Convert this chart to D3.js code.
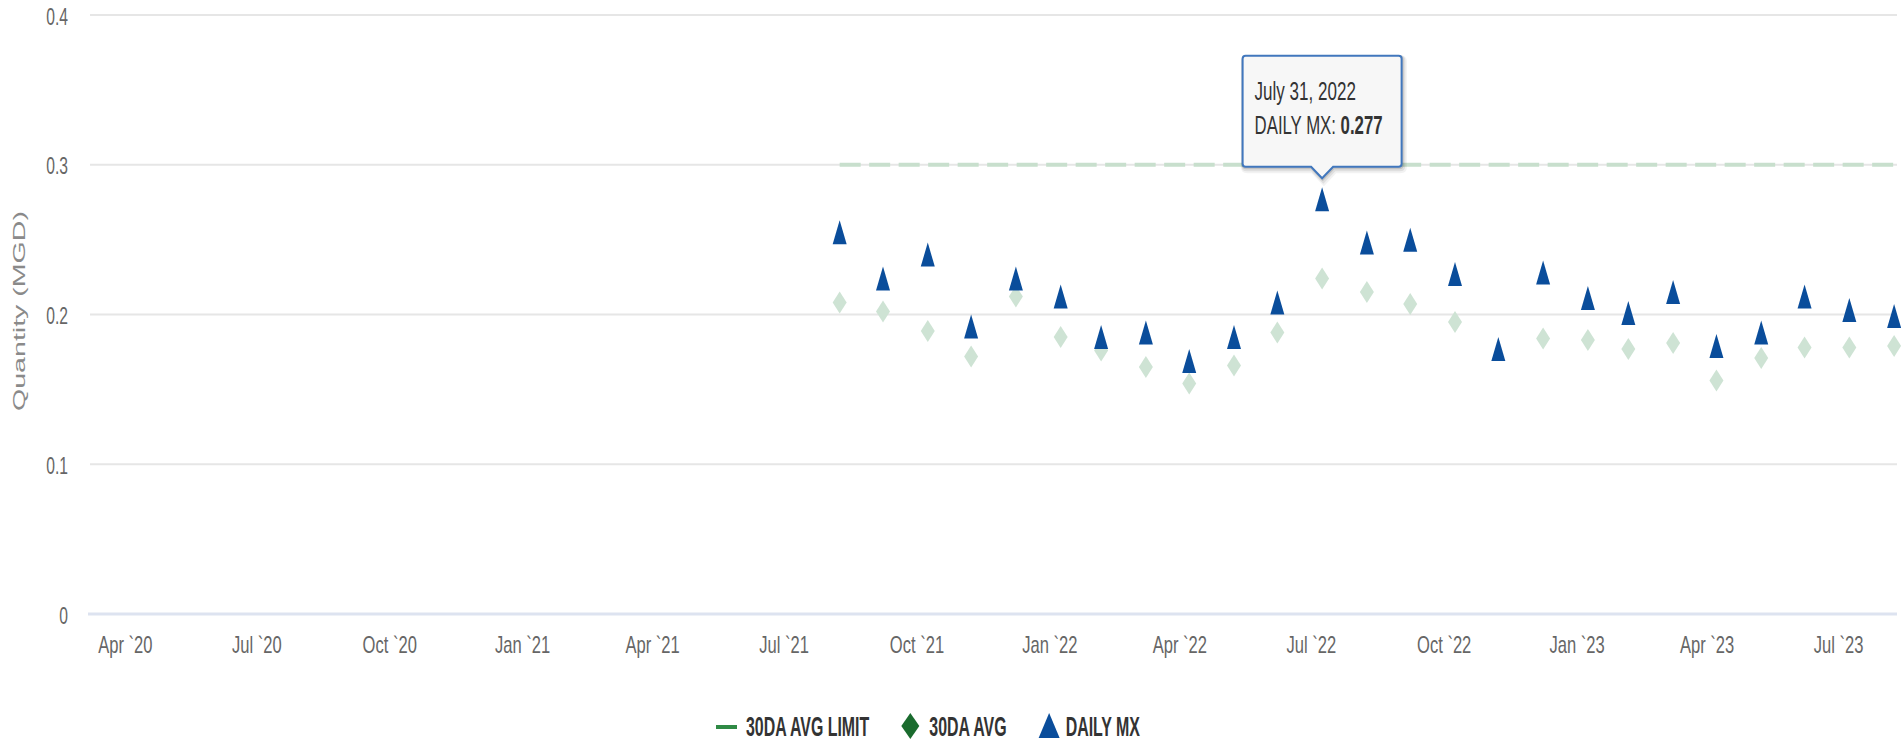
<!DOCTYPE html>
<html><head><meta charset="utf-8">
<script src="https://cdn.jsdelivr.net/npm/d3@7/dist/d3.min.js"></script>
<style>
html,body{margin:0;padding:0;background:#fff;overflow:hidden;}
svg{display:block;font-family:"Liberation Sans", Arial, sans-serif;}
</style></head><body>
<svg id="chart" width="1901" height="742"></svg>
<script>
// ---------- data ----------
const monthEnds = ["2021-08-31","2021-09-30","2021-10-31","2021-11-30","2021-12-31",
  "2022-01-31","2022-02-28","2022-03-31","2022-04-30","2022-05-31","2022-06-30","2022-07-31",
  "2022-08-31","2022-09-30","2022-10-31","2022-11-30","2022-12-31","2023-01-31","2023-02-28",
  "2023-03-31","2023-04-30","2023-05-31","2023-06-30","2023-07-31","2023-08-31"];
const dailyMx = [0.255,0.224,0.240,0.192,0.224,0.212,0.185,0.188,0.169,0.185,0.208,0.277,
  0.248,0.250,0.227,0.177,0.228,0.211,0.201,0.215,0.179,0.188,0.212,0.203,0.199];
const avg30 = [0.208,0.202,0.189,0.172,0.212,0.185,0.176,0.165,0.154,0.166,0.188,0.224,
  0.215,0.207,0.195,null,0.184,0.183,0.177,0.181,0.156,0.171,0.178,0.178,0.179];
const avgLimit = [0.3,0.3,0.3,0.3,0.3,0.3,0.3,0.3,0.3,0.3,0.3,0.3,
  0.3,0.3,0.3,0.3,0.3,0.3,0.3,0.3,0.3,0.3,0.3,0.3,0.3];
const yTicks = [0, 0.1, 0.2, 0.3, 0.4];
const yTickLabels = ["0","0.1","0.2","0.3","0.4"];
const xTickDates = ["2020-04-01","2020-07-01","2020-10-01","2021-01-01","2021-04-01","2021-07-01",
  "2021-10-01","2022-01-01","2022-04-01","2022-07-01","2022-10-01","2023-01-01","2023-04-01","2023-07-01"];
const xTickLabels = ["Apr `20","Jul `20","Oct `20","Jan `21","Apr `21","Jul `21",
  "Oct `21","Jan `22","Apr `22","Jul `22","Oct `22","Jan `23","Apr `23","Jul `23"];
const seriesNames = ["30DA AVG LIMIT","30DA AVG","DAILY MX"];
const yAxisTitle = "Quantity (MGD)";
const tooltipIndex = 11;
const tooltipDateLabel = "July 31, 2022";

// ---------- setup ----------
const parse = d3.utcParse("%Y-%m-%d");
const svg = d3.select("#chart");
const x = d3.scaleUtc().domain([Date.UTC(2020,2,30), Date.UTC(2023,8,2)]).range([90, 1897]);
const y = d3.scaleLinear().domain([0, 0.4]).range([614, 15]);

// horizontally condense a text element about its anchor x
function squeeze(sel, k){
  sel.each(function(){
    const ax = +(this.getAttribute("x") || 0);
    const prev = this.getAttribute("transform") || "";
    this.setAttribute("transform", `${prev} translate(${ax},0) scale(${k},1) translate(${-ax},0)`);
  });
}

// gridlines
svg.append("g").selectAll("line").data(yTicks.filter(d=>d>0)).join("line")
  .attr("x1", x.range()[0]).attr("x2", x.range()[1])
  .attr("y1", d=>y(d)).attr("y2", d=>y(d))
  .attr("stroke","#e6e6e6").attr("stroke-width",2);

// zero axis line
svg.append("line").attr("x1", x.range()[0]-2).attr("x2", x.range()[1])
  .attr("y1", y(0)).attr("y2", y(0)).attr("stroke","#dde3f0").attr("stroke-width",3);

// y axis labels
const yAxis = svg.append("g").attr("transform",`translate(${x.range()[0]},0)`)
  .call(d3.axisLeft(y).tickValues(yTicks).tickFormat((d,i)=>yTickLabels[i]).tickSize(0).tickPadding(22));
yAxis.select(".domain").remove();
yAxis.selectAll("text").attr("font-size",23).attr("fill","#666").attr("font-family","Liberation Sans, Arial, sans-serif")
  .attr("dy","0.40em");
squeeze(yAxis.selectAll("text"), 0.68);

// x axis labels
const xAxis = svg.append("g").attr("transform",`translate(0,${y(0)})`)
  .call(d3.axisBottom(x).tickValues(xTickDates.map(parse)).tickFormat((d,i)=>xTickLabels[i]).tickSize(0).tickPadding(23));
xAxis.select(".domain").remove();
xAxis.selectAll("text").attr("font-size",23).attr("fill","#666").attr("font-family","Liberation Sans, Arial, sans-serif")
  .attr("x",32);
squeeze(xAxis.selectAll("text"), 0.72);

// y axis title
svg.append("text").attr("transform",`translate(25,311) rotate(-90) scale(1.68,1)`)
  .attr("text-anchor","middle").attr("font-size",17).attr("fill","#8a8a8a").text(yAxisTitle);

// ---------- series ----------
const dates = monthEnds.map(parse);
const limitData = dates.map((d,i)=>({d, v: avgLimit[i]}));
svg.append("path").datum(limitData)
  .attr("d", d3.line().x(p=>x(p.d)).y(p=>y(p.v)))
  .attr("fill","none").attr("stroke","#c8dfcd").attr("stroke-width",4)
  .attr("stroke-dasharray","21,8.5");

const diamond = (cx,cy)=>`M${cx},${cy-11}L${cx+7},${cy}L${cx},${cy+11}L${cx-7},${cy}Z`;
const triangle = (cx,cy)=>`M${cx},${cy-12}L${cx+7},${cy+12}L${cx-7},${cy+12}Z`;

svg.append("g").selectAll("path").data(dates.map((d,i)=>({d, v: avg30[i]})).filter(p=>p.v!=null)).join("path")
  .attr("d", p=>diamond(x(p.d), y(p.v))).attr("fill","#cee3d4");

svg.append("g").selectAll("path").data(dates.map((d,i)=>({d, v: dailyMx[i]}))).join("path")
  .attr("d", p=>triangle(x(p.d), y(p.v))).attr("fill","#0a4d9b");

// ---------- tooltip ----------
{
  const px = x(dates[tooltipIndex]), py = y(dailyMx[tooltipIndex]);
  const bw = 159, bh = 111, r = 3;
  const bx = px - bw/2, by = py - 143.5;
  const bb = by + bh, ax = px, ay = py - 21;
  const pth = `M${bx+r},${by}H${bx+bw-r}Q${bx+bw},${by} ${bx+bw},${by+r}V${bb-r}Q${bx+bw},${bb} ${bx+bw-r},${bb}`+
    `H${ax+11}L${ax},${ay}L${ax-11},${bb}H${bx+r}Q${bx},${bb} ${bx},${bb-r}V${by+r}Q${bx},${by} ${bx+r},${by}Z`;
  const tg = svg.append("g");
  [[3,0.05],[2,0.08],[1,0.12]].forEach(([o,a])=>{
    tg.append("path").attr("d",pth).attr("transform",`translate(${o*0.6},${o})`)
      .attr("fill","none").attr("stroke",`rgba(0,0,0,${a})`).attr("stroke-width",2*o+1);
  });
  tg.append("path").attr("d",pth).attr("fill","#f7f7f7").attr("stroke","#4177bd").attr("stroke-width",2);
  const t1 = tg.append("text").attr("x",bx+12).attr("y",by+44).attr("font-size",26).attr("fill","#333").text(tooltipDateLabel);
  squeeze(t1, 0.655);
  const t2 = tg.append("text").attr("x",bx+12).attr("y",by+78).attr("font-size",26).attr("fill","#333");
  t2.append("tspan").text(seriesNames[2] + ": ");
  t2.append("tspan").attr("font-weight","bold").text(d3.format(".3f")(dailyMx[tooltipIndex]));
  squeeze(t2, 0.645);
}

// ---------- legend ----------
{
  const lg = svg.append("g");
  const cy = 726, base = 736, k = 0.59;
  let cx = 716;
  const items = [
    {name: seriesNames[0], w: 21, gap: 9, draw: (g,x0)=>g.append("line").attr("x1",x0).attr("x2",x0+21).attr("y1",cy+1).attr("y2",cy+1).attr("stroke","#2f8a45").attr("stroke-width",4)},
    {name: seriesNames[1], w: 18, gap: 10, draw: (g,x0)=>g.append("path").attr("d",`M${x0+9},${cy-13}L${x0+18},${cy}L${x0+9},${cy+13}L${x0},${cy}Z`).attr("fill","#1a6b2e")},
    {name: seriesNames[2], w: 21, gap: 6, draw: (g,x0)=>g.append("path").attr("d",`M${x0+10.5},${cy-13}L${x0+21},${cy+12}L${x0},${cy+12}Z`).attr("fill","#0a4d9b")}
  ];
  items.forEach(it=>{
    it.draw(lg, cx);
    cx += it.w + it.gap;
    const t = lg.append("text").attr("x",cx).attr("y",base).attr("font-size",27).attr("font-weight","bold")
      .attr("fill","#333").text(it.name);
    const L = t.node().getComputedTextLength()*k;
    squeeze(t, k);
    cx += L + 32;
  });
}
</script>
</body></html>
